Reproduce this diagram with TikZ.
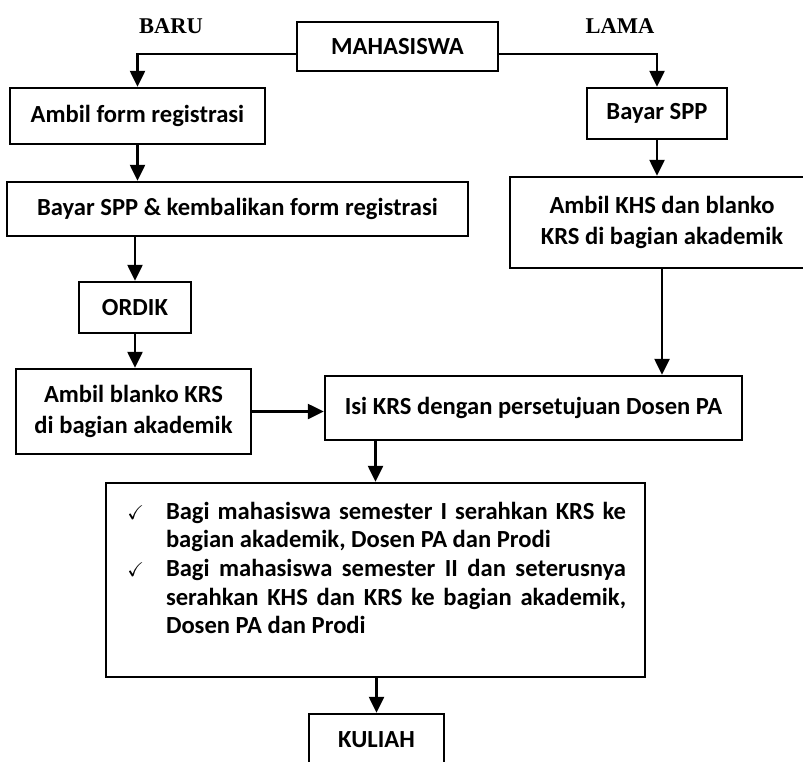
\documentclass[tikz,border=0pt]{standalone}
\usepackage{fontspec}
\usepackage{amssymb}
\setmainfont{Carlito}
\newfontfamily\judul{Liberation Serif}
\usetikzlibrary{arrows.meta}

\begin{document}
\begin{tikzpicture}[x=1pt, y=-1pt, line width=2.4pt, >={Triangle[width=15pt,length=16pt]},
		font=\fontsize{24.6}{31}\selectfont\bfseries,
		kotak/.style={draw, inner sep=0pt, align=center},
		label jalur/.style={font=\judul\fontsize{22.5}{22.5}\selectfont\bfseries}]
	\useasboundingbox (0,0) rectangle (803,761);
	\clip (0,0) rectangle (803,761);
	% judul dan jalur
	\node[kotak, minimum width=201pt, minimum height=49pt] (mhs) at (397.5,46.5) {MAHASISWA};
	\node[label jalur] (baru) at (171,26) {BARU};
	\node[label jalur] (lama) at (620,26) {LAMA};
	% mahasiswa baru
	\node[kotak, minimum width=255pt, minimum height=56pt] (form) at (137.5,116) {Ambil form registrasi};
	\node[kotak, minimum width=461pt, minimum height=54pt] (kembali) at (237.5,209) {Bayar SPP \& kembalikan form registrasi};
	\node[kotak, minimum width=112pt, minimum height=51pt] (ordik) at (135,307.5) {ORDIK};
	\node[kotak, minimum width=235pt, minimum height=85pt] (blanko) at (133.5,411.5) {Ambil blanko KRS\\di bagian akademik};
	% mahasiswa lama
	\node[kotak, minimum width=140pt, minimum height=51pt] (spp) at (657,113.5) {Bayar SPP};
	\node[kotak, minimum width=304pt, minimum height=91pt] (khs) at (662,222.5) {Ambil KHS dan blanko\\KRS di bagian akademik};
	% bersama
	\node[kotak, minimum width=417pt, minimum height=64pt] (isi) at (533.5,408) {Isi KRS dengan persetujuan Dosen PA};
	\node[kotak, minimum width=539pt, minimum height=194pt] (syarat) at (375.5,580) {%
		\parbox[t][156pt][t]{501pt}{\fontsize{24.6}{28.6}\selectfont
			\leftskip=41pt \parindent=0pt \parskip=0pt \hyphenpenalty=10000 \tolerance=10000
			\noindent\llap{\fontsize{20}{20}\selectfont$\checkmark$\hspace{22pt}}Bagi mahasiswa semester I serahkan KRS ke\linebreak bagian akademik, Dosen PA dan Prodi\par
			\noindent\llap{\fontsize{20}{20}\selectfont$\checkmark$\hspace{22pt}}Bagi mahasiswa semester II dan seterusnya\linebreak serahkan KHS dan KRS ke bagian akademik,\linebreak Dosen PA dan Prodi\par}};
	\node[kotak, minimum width=135pt, minimum height=52pt] (kuliah) at (376.5,740) {KULIAH};
	% alur
	\draw[->] ([yshift=-7.5pt]mhs.west) -| (form.north);
	\draw[->] ([yshift=-7.5pt]mhs.east) -| (spp.north);
	\draw[->] (form.south) -- (form.south |- kembali.north);
	\draw[->] (ordik.north |- kembali.south) -- (ordik.north);
	\draw[->] (ordik.south) -- (ordik.south |- blanko.north);
	\draw[->] (spp.south) -- (spp.south |- khs.north);
	\draw[->] (khs.south) -- (khs.south |- isi.north);
	\draw[->] (blanko.east) -- (blanko.east -| isi.west);
	\draw[->] (syarat.north |- isi.south) -- (syarat.north);
	\draw[->] (syarat.south) -- (syarat.south -| kuliah.north) -- (kuliah.north);
\end{tikzpicture}
\end{document}
